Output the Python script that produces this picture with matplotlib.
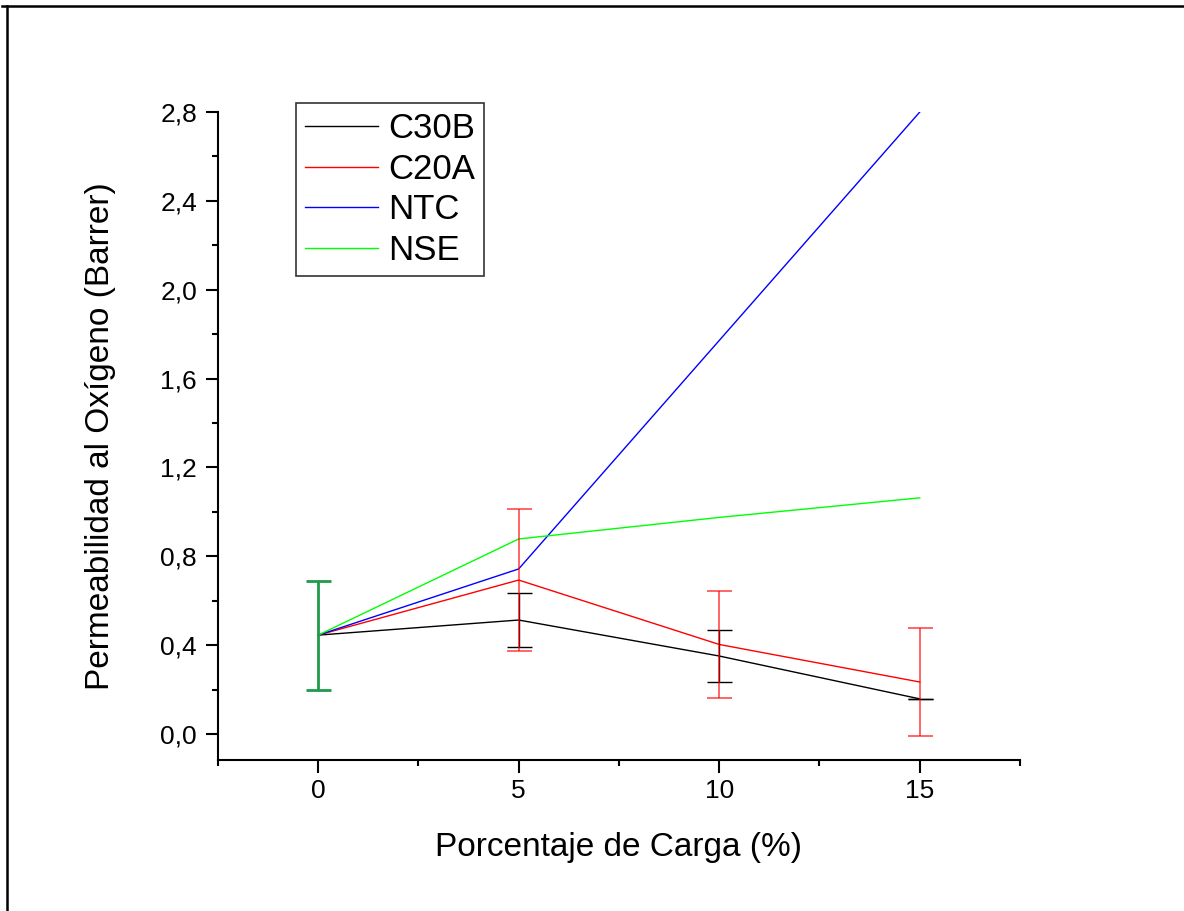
import matplotlib.pyplot as plt
from matplotlib.ticker import MultipleLocator, FuncFormatter
from matplotlib.lines import Line2D

plt.rcParams['font.family'] = ['Liberation Sans', 'DejaVu Sans']

# data
x_c30b = [0, 5, 10, 15]
y_c30b = [0.445, 0.513, 0.351, 0.158]
e_c30b = [0.0, 0.121, 0.117, 0.0]

x_c20a = [0, 5, 10, 15]
y_c20a = [0.445, 0.693, 0.403, 0.234]
e_c20a = [0.0, 0.320, 0.241, 0.245]

x_ntc = [0, 5, 15]
y_ntc = [0.445, 0.743, 2.80]

x_nse = [0, 5, 10, 15]
y_nse = [0.445, 0.878, 0.975, 1.063]
e_nse0 = 0.245

xticks = [0, 5, 10, 15]

fig = plt.figure(figsize=(11.84, 9.11), dpi=100)
ax = fig.add_axes([0.184, 0.1658, 0.6775, 0.7112])

ax.plot(x_c30b, y_c30b, color='black', lw=1, label='C30B')
ax.plot(x_c20a, y_c20a, color='red', lw=1, label='C20A')
ax.plot(x_ntc, y_ntc, color='blue', lw=1, label='NTC')
ax.plot(x_nse, y_nse, color='#00ff00', lw=1, label='NSE')

# error bars
ax.errorbar(x_c30b[1:], y_c30b[1:], yerr=e_c30b[1:], fmt='none', ecolor='black',
            elinewidth=1, capsize=9, capthick=1)
ax.errorbar(x_c20a[1:], y_c20a[1:], yerr=e_c20a[1:], fmt='none', ecolor='red',
            elinewidth=1.2, capsize=9, capthick=1.2, alpha=0.7)
ax.errorbar([x_nse[0]], [y_nse[0]], yerr=[e_nse0], fmt='none', ecolor='#1f9a4a',
            elinewidth=2, capsize=9, capthick=2)

ax.set_xlim(-2.5, 17.5)
ax.set_ylim(-0.117, 2.8)
ax.set_xticks(xticks)
ax.xaxis.set_minor_locator(MultipleLocator(2.5))
ax.yaxis.set_major_locator(MultipleLocator(0.4))
ax.yaxis.set_minor_locator(MultipleLocator(0.2))
ax.yaxis.set_major_formatter(FuncFormatter(lambda v, p: f'{v:.1f}'.replace('.', ',').replace('-0,0', '0,0')))

for s in ['top', 'right']:
    ax.spines[s].set_visible(False)
for s in ['left', 'bottom']:
    ax.spines[s].set_linewidth(1.5)

ax.tick_params(which='major', direction='out', length=9, width=1.5, labelsize=19, pad=6)
ax.tick_params(which='minor', direction='out', length=4.5, width=1.5)
ax.tick_params(axis='x', pad=4.5)

ax.set_xlabel('Porcentaje de Carga (%)', fontsize=24, labelpad=21)
ax.set_ylabel('Permeabilidad al Oxígeno (Barrer)', fontsize=24, labelpad=32)

leg = ax.legend(loc='upper left', bbox_to_anchor=(0.076, 1.04), fontsize=25,
                frameon=True, fancybox=False, edgecolor='black', handlelength=2.1,
                handletextpad=0.3, labelspacing=0.22, borderpad=0.25)
leg.get_frame().set_linewidth(1.2)

# border lines of the page
fig.add_artist(Line2D([0.002, 1.0], [0.9935, 0.9935], color='black', lw=1.8, transform=fig.transFigure))
fig.add_artist(Line2D([0.006, 0.006], [0.0, 0.9935], color='black', lw=1.8, transform=fig.transFigure))

fig.savefig('out.png', dpi=100)
